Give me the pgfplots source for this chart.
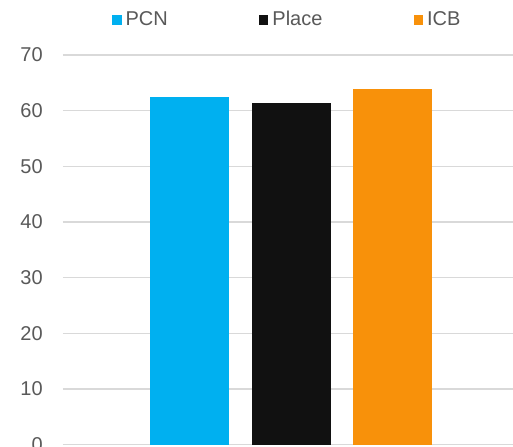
\documentclass[border=0pt]{standalone}
\usepackage{fontspec}
\setmainfont{Liberation Sans}
\usepackage{pgfplots}
\pgfplotsset{compat=1.18}
\definecolor{pcn}{RGB}{0,176,240}
\definecolor{place}{RGB}{17,17,17}
\definecolor{icb}{RGB}{248,145,10}
\definecolor{txt}{RGB}{89,89,89}
\definecolor{gridc}{RGB}{217,217,217}
\begin{document}
\begin{tikzpicture}
\begin{axis}[
  scale only axis, width=228pt, height=194.75pt,
  ymin=0, ymax=70, xmin=-1, xmax=1,
  ytick={0,10,...,70}, xtick=\empty,
  ymajorgrids, grid style={gridc, line width=0.7pt},
  axis line style={draw=none}, major tick length=0pt,
  ybar=11.25pt, bar width=39.5pt,
  font=\fontsize{10}{12}\selectfont,
  tick label style={text=txt, font=\fontsize{10}{12}\selectfont},
  /pgf/number format/assume math mode=true,
  yticklabel style={xshift=-6.6pt},
  legend columns=3,
  legend style={draw=none, at={(axis description cs:0.494,1)}, anchor=center, yshift=17.6pt,
    font=\fontsize{10}{12}\selectfont, text=txt,
    /tikz/every even column/.append style={column sep=43.6pt}},
  legend image code/.code={\fill[#1] (0pt,-2.4pt) rectangle (4.75pt,2.4pt);},
]
\addplot[fill=pcn, draw=none] coordinates {(0,62.5)};
\addplot[fill=place, draw=none] coordinates {(0,61.4)};
\addplot[fill=icb, draw=none] coordinates {(0,63.9)};
\legend{PCN,Place,ICB}
\coordinate (bl) at (rel axis cs:0,0);
\end{axis}
\pgfresetboundingbox
\path[use as bounding box] ([shift={(-31.5pt,-0.75pt)}]bl) rectangle ++(256.5pt,223pt);
\end{tikzpicture}
\end{document}
